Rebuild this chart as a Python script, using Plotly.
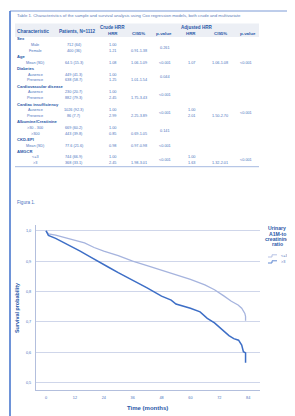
import plotly.graph_objects as go

# ---------------- data ----------------
table_title = ("Table 1. Characteristics of the sample and survival analysis using Cox regression "
               "models, both crude and multivariate")
header_cols = ["HRR", "CI95%", "p-value", "HRR", "CI95%", "p-value"]

table_groups = ["Sex", "Age", "Diabetes", "Cardiovascular disease", "Cardiac insufficiency",
                "Albumine/Creatinine", "CKD-EPI", "AMGCR"]
table_levels = [["Male", "Female"], ["Mean (SD)"], ["Ausence", "Presence"], ["Ausence", "Presence"],
                ["Ausence", "Presence"], [">30 - 300", ">300"], ["Mean (SD)"], ["<=3", ">3"]]
patients = [["712 (64)", "400 (36)"], ["64.5 (15.3)"], ["449 (41.3)", "638 (58.7)"],
            ["230 (20.7)", "882 (79.3)"], ["1026 (92.3)", "86 (7.7)"], ["669 (60.2)", "443 (39.8)"],
            ["77.6 (21.6)"], ["744 (66.9)", "368 (33.1)"]]
crude_hrr = [["1.00", "1.21"], ["1.08"], ["1.00", "1.25"], ["1.00", "2.45"], ["1.00", "2.99"],
             ["1.00", "0.85"], ["0.98"], ["1.00", "2.45"]]
crude_ci = [["", "0.91-1.38"], ["1.06-1.09"], ["", "1.01-1.54"], ["", "1.75-3.43"], ["", "2.25-3.89"],
            ["", "0.69-1.05"], ["0.97-0.98"], ["", "1.98-3.01"]]
crude_p = ["0.261", "<0.001", "0.044", "<0.001", "<0.001", "0.141", "<0.001", "<0.001"]
adj_hrr = [["", ""], ["1.07"], ["", ""], ["", ""], ["1.00", "2.01"], ["", ""], [""], ["1.00", "1.63"]]
adj_ci = [["", ""], ["1.06-1.08"], ["", ""], ["", ""], ["", "1.50-2.70"], ["", ""], [""], ["", "1.32-2.01"]]
adj_p = ["", "<0.001", "", "", "<0.001", "", "", "<0.001"]

figure_label = "Figura 1."
legend_title_lines = ["Urinary", "A1M-to", "creatinine", "ratio"]
series_names = ["<=3", ">3"]

time_low = [0, 1, 4, 8, 12, 16, 20, 24, 30, 36, 42, 48, 54, 60, 66, 70, 74, 77, 79.8, 81.3, 82.6, 82.9, 82.9]
surv_low = [1.0, 0.99, 0.986, 0.978, 0.970, 0.960, 0.945, 0.933, 0.918, 0.900, 0.885, 0.870, 0.855,
            0.840, 0.822, 0.806, 0.785, 0.768, 0.756, 0.745, 0.728, 0.718, 0.704]
time_high = [0, 0.5, 1, 4, 6, 10, 14, 18, 22, 26, 30, 36, 42, 48, 52, 54, 58, 60, 64, 67, 70, 73, 76,
             78, 80, 81.3, 82, 82.9, 82.9]
surv_high = [1.0, 0.99, 0.985, 0.975, 0.967, 0.950, 0.934, 0.916, 0.899, 0.880, 0.862, 0.838, 0.812,
             0.785, 0.772, 0.759, 0.750, 0.745, 0.733, 0.712, 0.697, 0.675, 0.655, 0.645, 0.640,
             0.624, 0.602, 0.598, 0.566]

x_ticks = [0, 12, 24, 36, 48, 60, 72, 84]
y_ticks = [0.5, 0.6, 0.7, 0.8, 0.9, 1.0]

# ---------------- style ----------------
# the page body has an 8px margin, so the figure is drawn 8px in from the window corner
OFF = 8
W, H = 295 - OFF, 416 - OFF
FONT = "Liberation Sans, Arial, sans-serif"
C_HEAD = "#2a58a8"
C_TXT = "#4b74c0"
C_TITLE = "#5a7ab8"
C_LOW = "#a6b4de"
C_HIGH = "#3d6ec6"
C_GRID = "#cfd6ea"
C_AXIS = "#b3bfdd"

def px(x):
    return (x - OFF) / W

def py(y):
    return 1 - (y - OFF) / H

annotations = []
shapes = []

def txt(x, y, s, size=3.8, color=C_TXT, bold=False, anchor="center", angle=0):
    if not s:
        return
    annotations.append(dict(
        x=px(x), y=py(y), xref="paper", yref="paper", text=("<b>%s</b>" % s) if bold else s,
        showarrow=False, xanchor=anchor, yanchor="middle", textangle=angle,
        font=dict(family=FONT, size=size, color=color)))

# page frame
shapes.append(dict(type="line", xref="paper", yref="paper", x0=px(10), x1=px(292), y0=py(11), y1=py(11),
                   line=dict(color="#7d9bd6", width=1)))
shapes.append(dict(type="line", xref="paper", yref="paper", x0=px(10), x1=px(10), y0=py(11), y1=0,
                   line=dict(color="#4a78cf", width=1.6)))

# table
txt(15, 15.7, table_title, size=4.3, color=C_TITLE, anchor="left")
shapes.append(dict(type="rect", xref="paper", yref="paper", x0=px(15), x1=px(259), y0=py(37), y1=py(23.5),
                   fillcolor="#eceff5", line=dict(width=0), layer="below"))
txt(15, 31, "Characteristic", size=4.8, color=C_HEAD, bold=True, anchor="left")
txt(77.5, 31, "Patients, N=1112", size=4.6, color=C_HEAD, bold=True)
txt(112, 27.3, "Crude HRR", size=4.6, color=C_HEAD, bold=True)
txt(197, 27.3, "Adjusted HRR", size=4.6, color=C_HEAD, bold=True)
col_x = [113, 138, 164, 191, 220, 248]
for cx, h in zip(col_x, header_cols):
    txt(cx, 33.3, h, size=4.4, color=C_HEAD, bold=True)

row_y0, step = 39.0, 5.92
r = 0
X_LVL, X_PAT, X_CH, X_CCI, X_CP, X_AH, X_ACI, X_AP = 35, 74, 112, 139, 165, 191, 220, 246
for gi, g in enumerate(table_groups):
    txt(15, row_y0 + r * step, g, size=4.1, color=C_HEAD, bold=True, anchor="left")
    r += 1
    ys = []
    for li, lvl in enumerate(table_levels[gi]):
        y = row_y0 + r * step
        ys.append(y)
        txt(X_LVL, y, lvl)
        txt(X_PAT, y, patients[gi][li])
        txt(X_CH, y, crude_hrr[gi][li])
        txt(X_CCI, y, crude_ci[gi][li])
        txt(X_AH, y, adj_hrr[gi][li])
        txt(X_ACI, y, adj_ci[gi][li])
        r += 1
    ym = sum(ys) / len(ys)
    txt(X_CP, ym, crude_p[gi])
    txt(X_AP, ym, adj_p[gi])
shapes.append(dict(type="line", xref="paper", yref="paper", x0=px(15), x1=px(259), y0=py(166.7), y1=py(166.7),
                   line=dict(color="#8ea6d8", width=0.8)))

# figure label
txt(15, 202.7, figure_label, size=4.6, color=C_TXT, anchor="left")

# axis titles
txt(147, 407.7, "Time (months)", size=6, color=C_HEAD, bold=True)
txt(17, 308, "Survival probability", size=5.4, color=C_HEAD, bold=True, angle=-90)

# legend (manual)
for i, line in enumerate(legend_title_lines):
    txt(277, 228.3 + i * 5.3, line, size=5.1, color=C_HEAD, bold=True)
for name, col, y in zip(series_names, [C_LOW, C_HIGH], [256, 262]):
    shapes.append(dict(type="path", xref="paper", yref="paper",
                       path="M %f %f L %f %f L %f %f L %f %f" % (px(268), py(y + 1), px(272), py(y + 1),
                                                                  px(272), py(y - 1.2), px(277), py(y - 1.2)),
                       line=dict(color=col, width=0.8)))
    txt(278.5, y, name, size=3.8, color=C_TXT, anchor="left")

fig = go.Figure()
fig.add_trace(go.Scatter(x=time_low, y=surv_low, mode="lines", name=series_names[0],
                         line=dict(color=C_LOW, width=1.3)))
fig.add_trace(go.Scatter(x=time_high, y=surv_high, mode="lines", name=series_names[1],
                         line=dict(color=C_HIGH, width=1.5)))

fig.update_layout(
    width=W, height=H, margin=dict(l=0, r=0, t=0, b=0),
    paper_bgcolor="white", plot_bgcolor="white", showlegend=False, separators=",.",
    font=dict(family=FONT, color=C_TXT),
    annotations=annotations, shapes=shapes,
    xaxis=dict(domain=[px(36), px(260)], range=[-4.15, 88.9], tickvals=x_ticks,
               showgrid=False, zeroline=False, showline=True, linecolor=C_AXIS, linewidth=1,
               ticks="outside", ticklen=3, tickcolor="rgba(0,0,0,0)",
               tickfont=dict(size=3.8, color=C_TXT, family=FONT)),
    yaxis=dict(domain=[py(390), py(225)], range=[0.476, 1.019], tickvals=y_ticks, tickformat=".1f",
               showgrid=True, gridcolor=C_GRID, gridwidth=1, zeroline=False,
               showline=True, linecolor=C_AXIS, linewidth=1,
               ticks="outside", ticklen=3, tickcolor="rgba(0,0,0,0)",
               tickfont=dict(size=3.8, color=C_TXT, family=FONT)),
)

fig.write_html("out.html")
